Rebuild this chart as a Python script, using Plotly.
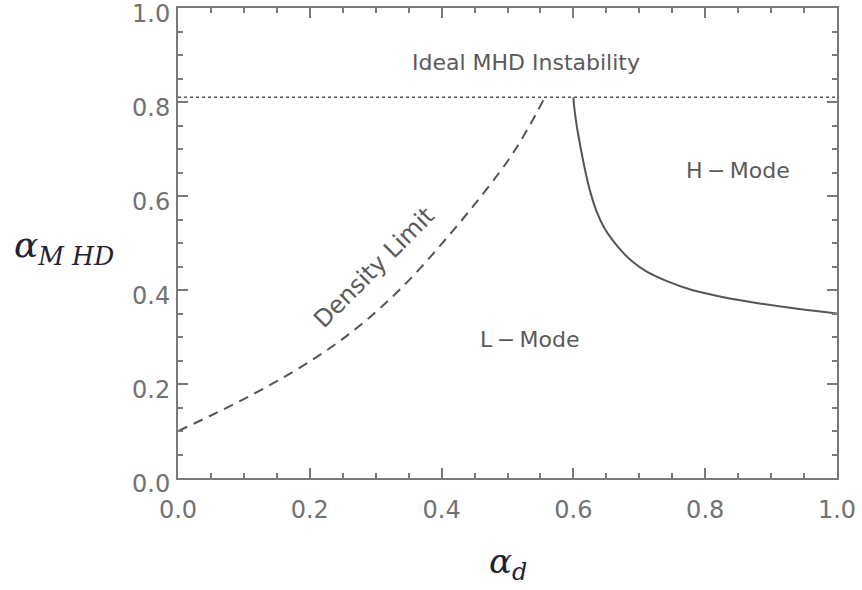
import plotly.graph_objects as go

# Density limit (dashed)
dl_x = [0.00, 0.05, 0.10, 0.15, 0.20, 0.25, 0.30, 0.35, 0.40, 0.45, 0.50, 0.53, 0.557]
dl_y = [0.100, 0.133, 0.168, 0.206, 0.248, 0.296, 0.353, 0.420, 0.498, 0.582, 0.674, 0.741, 0.811]

# L-H boundary (solid)
lh_x = [0.600, 0.602, 0.605, 0.610, 0.617, 0.625, 0.635, 0.647, 0.660, 0.675, 0.690,
        0.710, 0.740, 0.780, 0.830, 0.880, 0.940, 1.000]
lh_y = [0.810, 0.780, 0.750, 0.710, 0.660, 0.612, 0.568, 0.532, 0.505, 0.480, 0.460,
        0.440, 0.420, 0.400, 0.384, 0.372, 0.360, 0.350]

# Ideal MHD limit (dotted)
mhd_x = [0.0, 1.0]
mhd_y = [0.81, 0.81]

tick_vals = [0.0, 0.2, 0.4, 0.6, 0.8, 1.0]
tick_text = ["0.0", "0.2", "0.4", "0.6", "0.8", "1.0"]

LINE = "#555555"
AX = "#7a7a7a"
TXT = "#5a5a5a"

fig = go.Figure()
fig.add_trace(go.Scatter(x=mhd_x, y=mhd_y, mode="lines",
                         line=dict(color=LINE, width=1.5, dash="dot"), showlegend=False))
fig.add_trace(go.Scatter(x=dl_x, y=dl_y, mode="lines", line_shape="spline",
                         line=dict(color=LINE, width=2, dash="10px,7px"), showlegend=False))
fig.add_trace(go.Scatter(x=lh_x, y=lh_y, mode="lines", line_shape="spline",
                         line=dict(color=LINE, width=2), showlegend=False))

axis_common = dict(
    range=[0, 1], tickvals=tick_vals, ticktext=tick_text,
    ticks="inside", ticklen=10, tickwidth=1.5, tickcolor=AX,
    showline=True, linecolor=AX, linewidth=2, mirror="ticks",
    showgrid=False, zeroline=False, automargin=False,
    ticklabeloverflow="allow",
    tickfont=dict(family="DejaVu Sans", size=24, color="#727272"),
    minor=dict(dtick=0.05, ticks="inside", ticklen=5, tickcolor=AX, tickwidth=1.5, showgrid=False),
)

fig.update_xaxes(**axis_common, ticklabelstandoff=9)
fig.update_yaxes(**axis_common, ticklabelstandoff=1, ticklabelshift=6)

ann_font = dict(family="DejaVu Sans", size=22, color=TXT)
fig.add_annotation(x=0.528, y=0.885, text="Ideal MHD Instability", showarrow=False, font=ann_font)
fig.add_annotation(x=0.850, y=0.655, text="H\u2009\u2212\u2009Mode", showarrow=False, font=ann_font)
fig.add_annotation(x=0.533, y=0.294, text="L\u2009\u2212\u2009Mode", showarrow=False, font=ann_font)
fig.add_annotation(x=0.297, y=0.447, text="Density Limit", showarrow=False,
                   font=dict(family="DejaVu Sans", size=24, color=TXT), textangle=-45)

fig.add_annotation(xref="paper", yref="paper", x=0.50, y=-0.13, yanchor="top",
                   text="<i>α<sub>d</sub></i>", showarrow=False,
                   font=dict(family="DejaVu Serif", size=34, color="#222233"))
fig.add_annotation(xref="paper", yref="paper", x=-0.252, y=0.49, xanchor="left", yanchor="middle",
                   text="<i>α<sub>M HD</sub></i>", showarrow=False,
                   font=dict(family="DejaVu Serif", size=36, color="#222233"))

fig.update_layout(
    width=862, height=590,
    margin=dict(l=178, r=25, t=8, b=112),
    plot_bgcolor="white", paper_bgcolor="white",
)

fig.write_html("out.html", config={"displayModeBar": False},
               post_script="document.body.style.margin='0';")
